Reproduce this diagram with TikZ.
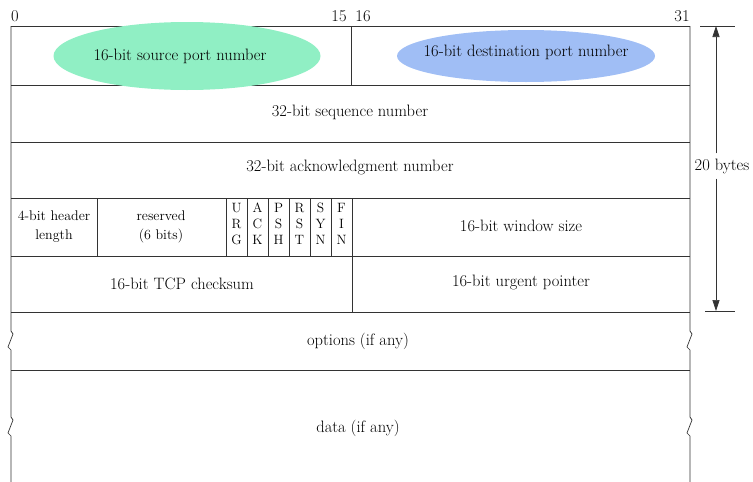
\documentclass[tikz,border=0pt]{standalone}
\usepackage{fontspec}
\usepackage{tikz}
\usetikzlibrary{positioning,calc,shapes.geometric,arrows.meta}
\definecolor{srcport}{HTML}{90EFC4}
\definecolor{dstport}{HTML}{A0BEF5}
\definecolor{rule}{HTML}{333333}

\begin{document}
\begin{tikzpicture}[x=1pt,y=-1pt,
  every node/.style={align=center,font=\fontsize{16.5}{19}\selectfont,inner sep=1pt},
  small/.style={font=\fontsize{14}{19}\selectfont},
  flagtxt/.style={font=\fontsize{13.5}{16}\selectfont},
  border/.style={draw=rule,line width=0.7pt},
  portoval/.style={ellipse,inner sep=0pt}]
\useasboundingbox (0,0) rectangle (753,482);
% bit numbers
\node (b0) at (15,16) {0};
\node (b15) at (339,16) {15};
\node (b16) at (363,16) {16};
\node (b31) at (682,16) {31};
% rows
\draw[border] (11,26) -- (690,26);
\foreach \y in {85,142,198,256,312,370}
  \draw[border] (11,\y) -- (690,\y);
\draw[border] (351,26) -- (351,85);
\draw[border] (352,198) -- (352,312);
\draw[border] (97,198) -- (97,256);
\foreach \i in {0,...,5}
  \draw[border] ({226+21*\i},198) -- ({226+21*\i},256);
% outer edges with breaks
\draw[border] (11,26) -- (11,331) -- (13,334) -- (8,347) -- (11,350) -- (11,417) -- (13,420) -- (8,433) -- (11,436) -- (11,482);
\draw[border] (690,26) -- (690,331) -- (692,334) -- (687,347) -- (690,350) -- (690,417) -- (692,420) -- (687,433) -- (690,436) -- (690,482);
% fields
\node[portoval,fill=srcport,minimum width=267pt,minimum height=68pt] (src) at (187,56) {16-bit source port number\hspace*{14pt}};
\node[portoval,fill=dstport,inner xsep=-12pt,minimum width=258pt,minimum height=52pt] (dst) at (526,56) {\raisebox{10pt}{16-bit destination port number}};
\node (seq) at (350,112) {32-bit sequence number};
\node (ack) at (350,167) {32-bit acknowledgment number};
\node[small] (hlen) at (54,227) {4-bit header\\length};
\node[small] (resv) at (161,227) {reserved\\(6 bits)};
\foreach \f [count=\i from 0] in {{U\\R\\G},{A\\C\\K},{P\\S\\H},{R\\S\\T},{S\\Y\\N},{F\\I\\N}}
  \node[flagtxt] (flag\i) at ({236.5+21*\i},224) {\f};
\node (win) at (521,226) {16-bit window size};
\node (csum) at (182,284) {16-bit TCP checksum};
\node (urg) at (521,282) {16-bit urgent pointer};
\node (opts) at (358,341) {options (if any)};
\node (data) at (358,428) {data (if any)};
% header length
\coordinate (hdrtop) at (716,26);
\coordinate (hdrbot) at (716,311);
\draw[border] (700,26) -- (735,26);
\draw[border] (705,311) -- (735,311);
\node[inner sep=5pt] (bytes) at (722,166) {20 bytes};
\draw[border,-{Triangle[width=7pt,length=11pt]}] (bytes.north -| hdrtop) -- (hdrtop);
\draw[border,-{Triangle[width=7pt,length=11pt]}] (bytes.south -| hdrbot) -- (hdrbot);
\end{tikzpicture}
\end{document}
